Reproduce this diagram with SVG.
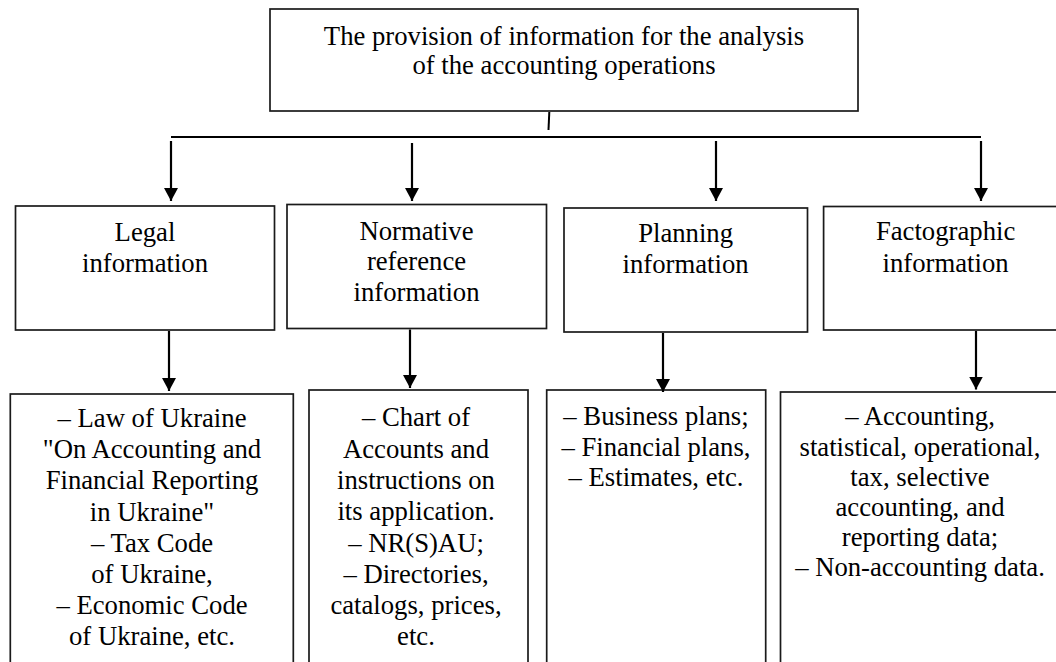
<svg xmlns="http://www.w3.org/2000/svg" width="1056" height="662" viewBox="0 0 1056 662">
<defs>
<marker id="ah" markerUnits="userSpaceOnUse" markerWidth="13" markerHeight="14" refX="13" refY="7" orient="auto">
<path d="M0,0 L13,7 L0,14 z" fill="#000"/>
</marker>
<style>
.box{fill:#fff;stroke:#1a1a1a;stroke-width:1.7}
.t{font-family:"Liberation Serif","Times New Roman",serif;font-size:26.7px;fill:#000;text-anchor:middle}
.c{stroke:#000;stroke-width:2;fill:none}
.a{stroke:#000;stroke-width:2.2;fill:none;marker-end:url(#ah)}
</style>
</defs>
<rect width="1056" height="662" fill="#fff"/>

<g id="top">
<rect class="box" x="270" y="9" width="588" height="102"/>
<text class="t" x="564" y="45">The provision of information for the analysis</text>
<text class="t" x="564" y="74">of the accounting operations</text>
</g>

<g id="legal">
<rect class="box" x="15.5" y="206" width="259" height="124"/>
<text class="t" x="145" y="241">Legal</text>
<text class="t" x="145" y="272">information</text>
</g>

<g id="normative">
<rect class="box" x="287" y="204.5" width="259.5" height="124"/>
<text class="t" x="416.5" y="239.5">Normative</text>
<text class="t" x="416.5" y="270">reference</text>
<text class="t" x="416.5" y="300.5">information</text>
</g>

<g id="planning">
<rect class="box" x="564" y="208" width="243.5" height="124"/>
<text class="t" x="685.6" y="242">Planning</text>
<text class="t" x="685.6" y="273">information</text>
</g>

<g id="factographic">
<rect class="box" x="823.6" y="206.5" width="250" height="123.5"/>
<text class="t" x="945.6" y="240">Factographic</text>
<text class="t" x="945.6" y="271.5">information</text>
</g>

<g id="legal-details">
<rect class="box" x="10.3" y="394" width="283" height="280"/>
<text class="t" x="152" y="427">– Law of Ukraine</text>
<text class="t" x="152" y="458">"On Accounting and</text>
<text class="t" x="152" y="489">Financial Reporting</text>
<text class="t" x="152" y="520.5">in Ukraine"</text>
<text class="t" x="152" y="551.5">– Tax Code</text>
<text class="t" x="152" y="583">of Ukraine,</text>
<text class="t" x="152" y="614">– Economic Code</text>
<text class="t" x="152" y="645">of Ukraine, etc.</text>
</g>

<g id="normative-details">
<rect class="box" x="309" y="390" width="219" height="284"/>
<text class="t" x="416" y="426">– Chart of</text>
<text class="t" x="416" y="457.5">Accounts and</text>
<text class="t" x="416" y="489">instructions on</text>
<text class="t" x="416" y="520">its application.</text>
<text class="t" x="416" y="551.5">– NR(S)AU;</text>
<text class="t" x="416" y="583">– Directories,</text>
<text class="t" x="416" y="614">catalogs, prices,</text>
<text class="t" x="416" y="645">etc.</text>
</g>

<g id="planning-details">
<rect class="box" x="546.7" y="390" width="219" height="284"/>
<text class="t" x="656" y="425">– Business plans;</text>
<text class="t" x="656" y="455.5">– Financial plans,</text>
<text class="t" x="656" y="486">– Estimates, etc.</text>
</g>

<g id="factographic-details">
<rect class="box" x="780.5" y="392" width="290" height="282"/>
<text class="t" x="920" y="425">– Accounting,</text>
<text class="t" x="920" y="455.5">statistical, operational,</text>
<text class="t" x="920" y="486">tax, selective</text>
<text class="t" x="920" y="516">accounting, and</text>
<text class="t" x="920" y="546">reporting data;</text>
<text class="t" x="920" y="576">– Non-accounting data.</text>
</g>

<g id="connectors">
<line class="c" x1="549.3" y1="112" x2="548.5" y2="130" stroke-width="1.5"/>
<line class="c" x1="171" y1="137" x2="981" y2="137" stroke-width="1.8"/>
<line class="a" x1="171" y1="141" x2="171" y2="201"/>
<line class="a" x1="412" y1="143" x2="412" y2="201"/>
<line class="a" x1="716" y1="141" x2="716" y2="201"/>
<line class="a" x1="981" y1="141" x2="981" y2="201"/>
<line class="a" x1="169" y1="331" x2="169" y2="391"/>
<line class="a" x1="410" y1="329.5" x2="410" y2="388"/>
<line class="a" x1="663" y1="333" x2="663" y2="392"/>
<line class="a" x1="976" y1="331" x2="976" y2="389.5"/>
</g>
</svg>
